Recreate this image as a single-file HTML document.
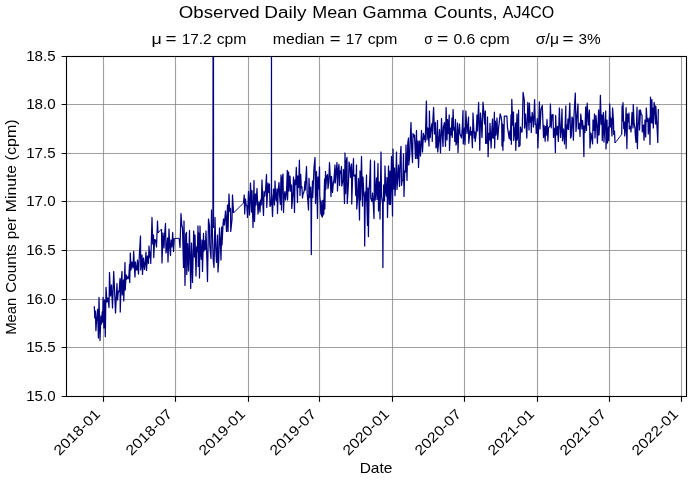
<!DOCTYPE html>
<html><head><meta charset="utf-8"><title>Observed Daily Mean Gamma Counts, AJ4CO</title>
<style>html,body{margin:0;padding:0;background:#fff}svg{display:block;will-change:transform}</style>
</head><body>
<svg width="692" height="482" viewBox="0 0 692 482" font-family="Liberation Sans, sans-serif" fill="#000">
<rect x="0" y="0" width="692" height="482" fill="#fff"/>
<path d="M103.5,56.5 V396.5 M175.5,56.5 V396.5 M248.5,56.5 V396.5 M319.5,56.5 V396.5 M392.5,56.5 V396.5 M464.5,56.5 V396.5 M537.5,56.5 V396.5 M609.5,56.5 V396.5 M681.5,56.5 V396.5" stroke="#808080" stroke-opacity="0.75" stroke-width="1.11" fill="none"/>
<path d="M66.5,104.5 H686.5 M66.5,153.5 H686.5 M66.5,201.5 H686.5 M66.5,250.5 H686.5 M66.5,299.5 H686.5 M66.5,347.5 H686.5" stroke="#808080" stroke-opacity="0.75" stroke-width="1.11" fill="none"/>
<clipPath id="c"><rect x="66.5" y="56.5" width="620.0" height="340.0"/></clipPath>
<path clip-path="url(#c)" d="M94.30,306.30 L94.80,318.00 L95.40,311.00 L95.90,330.70 L96.70,319.00 L97.60,309.40 L98.40,338.00 L99.00,297.40 L100.00,340.50 L100.90,316.00 L101.50,324.00 L102.20,312.00 L102.60,322.00 L103.10,297.40 L103.90,328.00 L104.50,300.00 L105.30,336.70 L106.00,287.40 L107.00,302.00 L108.00,298.00 L109.00,307.50 L109.50,272.50 L110.50,296.00 L111.50,285.00 L112.50,308.00 L113.70,271.50 L114.60,290.97 L115.50,313.00 L116.25,297.67 L117.00,283.50 L117.50,300.00 L118.33,291.32 L119.17,291.65 L120.00,278.50 L120.25,312.00 L121.12,282.77 L122.00,271.50 L122.25,295.00 L123.50,280.00 L123.75,301.00 L125.00,262.50 L125.25,290.00 L126.12,274.99 L127.00,279.00 L128.00,276.50 L128.75,278.78 L129.50,264.50 L129.75,282.50 L130.30,253.00 L131.00,270.00 L132.00,262.00 L133.00,268.00 L133.70,251.40 L134.35,266.49 L135.00,277.00 L135.50,262.00 L136.25,269.65 L137.00,270.00 L137.50,260.00 L138.50,274.00 L139.30,256.00 L140.50,236.00 L140.75,270.00 L142.00,255.00 L142.50,274.40 L143.50,258.00 L144.50,269.40 L145.25,262.70 L146.00,252.00 L146.50,270.40 L147.50,256.00 L148.50,263.40 L149.00,246.00 L149.75,257.51 L150.50,252.00 L150.75,263.40 L152.00,217.50 L152.75,244.01 L153.50,235.00 L153.75,257.50 L154.62,239.65 L155.50,240.00 L156.50,247.00 L157.50,221.00 L158.00,233.00 M161.50,229.00 L162.00,263.00 L163.00,233.00 L164.00,248.00 L164.50,236.00 L165.50,223.50 L166.00,253.00 L166.75,249.15 L167.50,238.00 L168.00,262.00 L169.00,229.00 L169.75,248.12 L170.50,255.50 L171.00,240.00 L171.85,246.98 L172.70,232.50 L173.50,251.50 L174.30,238.40 M179.20,238.40 L180.00,247.50 L181.00,213.50 L181.75,224.82 L182.50,228.00 L183.50,267.40 L184.00,221.00 L185.00,285.40 L185.75,234.07 L186.50,232.40 L186.75,274.40 L187.62,243.71 L188.50,271.00 L189.50,230.40 L190.70,288.40 L191.50,243.00 L192.50,282.40 L193.70,231.00 L194.50,257.00 L195.00,235.00 L196.00,276.00 L196.67,246.79 L197.33,251.72 L198.00,226.00 L198.25,266.40 L199.00,233.00 L199.50,278.00 L200.00,226.00 L200.67,252.58 L201.33,259.28 L202.00,240.00 L202.50,271.40 L203.50,233.40 L204.00,251.00 L204.67,240.91 L205.33,249.31 L206.00,231.00 L206.75,255.45 L207.50,281.40 L208.50,219.00 L209.50,226.00 L209.75,245.00 L211.00,258.40 L211.50,210.00 L212.33,229.38 L213.17,259.51 L214.00,267.40 L215.00,217.40 L215.75,248.57 L216.50,262.40 L217.50,235.00 L218.00,272.00 L218.75,260.38 L219.50,228.00 L220.25,240.29 L221.00,260.00 L221.70,227.00 L222.00,245.00 L223.00,225.00 L223.50,219.00 L224.30,225.00 L225.50,211.00 L226.50,231.40 L227.50,205.00 L228.00,231.40 L229.00,194.00 L229.75,211.20 L230.50,208.50 L230.75,231.40 L232.00,219.50 L232.50,195.00 L233.50,213.00 M243.50,203.00 L244.20,195.00 L244.70,214.00 L245.50,199.00 L246.17,205.12 L246.83,205.65 L247.50,217.50 L248.50,191.50 L249.50,215.00 L250.50,183.00 L251.50,212.00 L252.00,190.50 L253.00,227.40 L254.00,180.50 L254.50,221.40 L255.50,194.00 L256.00,205.00 L257.00,188.50 L258.00,214.00 L259.00,202.00 L260.00,212.00 L260.50,200.00 L261.25,204.98 L262.00,180.00 L262.75,201.23 L263.50,215.40 L264.00,191.50 L264.83,196.16 L265.67,188.41 L266.50,174.50 L266.75,207.40 L268.00,183.00 L268.75,192.34 L269.50,184.00 L270.00,206.40 L270.83,204.46 L271.67,194.99 L272.50,216.40 L273.50,189.00 L274.50,205.00 L275.00,181.00 L275.67,197.35 L276.33,200.57 L277.00,189.00 L277.50,213.40 L278.25,189.32 L279.00,182.50 L279.67,196.13 L280.33,204.31 L281.00,175.00 L281.50,210.00 L282.25,178.03 L283.00,174.00 L283.50,212.40 L284.25,194.66 L285.00,191.50 L285.50,200.00 L286.50,193.00 L287.30,170.30 L287.55,200.00 L288.60,172.00 L289.00,191.00 L290.00,176.00 L290.75,191.29 L291.50,185.00 L291.75,208.40 L293.00,192.00 L293.50,177.00 L294.50,212.40 L295.00,180.00 L295.65,184.58 L296.30,167.40 L297.50,202.40 L297.80,176.00 L298.60,187.28 L299.40,160.20 L300.00,195.40 L300.70,174.30 L301.30,187.85 L301.90,186.67 L302.50,198.00 L303.00,194.00 L303.67,192.88 L304.33,189.87 L305.00,181.40 L305.25,190.00 L306.50,166.50 L307.17,193.14 L307.83,200.57 L308.50,210.00 L309.00,178.40 L309.80,197.41 L310.60,187.00 L311.00,206.00 L311.30,254.60 L311.60,204.00 L312.50,181.00 L312.75,197.50 L314.00,167.50 L315.00,157.50 L315.50,203.50 L316.50,171.50 L317.50,218.40 L318.00,177.00 L318.75,188.76 L319.50,167.00 L319.75,195.00 L320.50,205.00 L320.80,214.00 L321.20,201.00 L321.60,216.00 L322.00,206.00 L322.40,217.00 L322.80,200.50 L323.20,215.00 L323.50,200.00 L323.80,214.00 L324.05,198.50 L324.60,179.00 L324.85,209.00 L325.50,171.50 L325.75,189.40 L326.62,176.37 L327.50,174.50 L328.00,188.50 L328.75,182.08 L329.50,162.50 L330.25,177.34 L331.00,196.50 L331.50,176.40 L332.50,192.40 L333.50,181.00 L333.75,183.00 L335.00,165.00 L335.25,183.00 L336.12,172.70 L337.00,162.50 L337.50,191.00 L338.25,169.01 L339.00,164.50 L339.50,185.40 L340.17,171.03 L340.83,173.46 L341.50,166.50 L341.75,186.00 L343.00,180.00 L343.50,169.50 L344.50,203.50 L345.00,153.00 L345.67,193.53 L346.33,160.75 L347.00,157.50 L347.25,203.50 L348.50,182.40 L349.00,162.00 L349.75,165.35 L350.50,177.40 L351.50,164.00 L351.75,204.00 L352.62,176.08 L353.50,158.50 L353.75,176.00 L355.00,175.00 L355.75,195.58 L356.50,165.00 L356.75,209.00 L357.62,198.23 L358.50,178.40 L359.50,220.00 L360.00,171.00 L360.50,200.00 L361.50,156.50 L362.50,206.00 L363.00,177.00 L363.65,191.44 L364.30,198.00 L364.70,246.00 L365.30,191.86 L365.90,201.10 L366.50,175.00 L366.75,200.00 L367.50,225.40 L368.00,188.00 L368.40,236.60 L369.10,191.57 L369.80,178.27 L370.50,160.00 L370.75,198.00 L372.00,201.50 L372.50,193.00 L373.25,203.51 L374.00,218.40 L374.50,161.00 L375.17,200.11 L375.83,190.84 L376.50,178.00 L377.00,199.50 L378.00,163.50 L378.50,211.00 L379.50,182.00 L380.00,219.00 L381.00,152.00 L381.50,196.00 L382.60,204.00 L382.90,267.60 L383.20,204.00 L383.70,185.00 L384.50,201.00 L385.00,166.00 L385.67,190.73 L386.33,196.08 L387.00,177.50 L387.50,217.40 L388.50,166.00 L389.25,204.36 L390.00,171.00 L390.50,204.50 L391.50,156.50 L392.50,216.00 L393.00,149.00 L393.75,188.92 L394.50,168.00 L395.00,195.70 L395.75,179.88 L396.50,152.00 L397.00,189.40 L397.75,177.89 L398.50,165.00 L399.50,186.40 L400.25,156.72 L401.00,146.40 L401.50,185.40 L402.17,180.48 L402.83,180.29 L403.50,154.00 L404.00,196.50 L404.75,171.11 L405.50,172.00 L406.00,145.00 L407.00,180.40 L407.75,143.36 L408.50,138.00 L408.75,165.00 L409.70,156.00 L410.35,137.50 L411.00,122.50 L411.75,150.30 L412.50,162.50 L413.00,133.50 L413.75,136.90 L414.50,135.00 L415.50,158.40 L416.50,130.50 L417.00,158.50 L418.00,141.00 L418.50,167.50 L419.50,141.00 L420.50,156.00 L421.50,130.50 L422.50,152.00 L423.50,133.40 L424.25,139.28 L425.00,135.50 L425.25,142.00 L426.40,101.00 L427.00,140.00 L428.00,128.00 L429.00,146.00 L429.40,111.00 L430.20,137.75 L431.00,129.00 L432.00,123.50 L432.25,141.40 L432.93,119.09 L433.60,107.50 L434.50,134.00 L435.50,122.50 L436.00,148.00 L436.75,146.27 L437.50,120.50 L437.75,152.00 L438.62,142.37 L439.50,129.50 L440.50,153.00 L441.50,118.50 L442.25,134.11 L443.00,146.40 L443.50,127.00 L444.50,122.50 L445.50,146.40 L446.10,107.50 L447.00,140.00 L447.50,119.50 L448.35,133.55 L449.20,115.00 L449.50,150.40 L450.50,128.00 L451.25,134.89 L452.00,118.00 L452.25,137.40 L453.10,109.50 L453.80,130.11 L454.50,128.00 L454.75,141.40 L455.50,119.50 L456.00,145.00 L456.75,141.61 L457.50,123.00 L458.00,152.40 L458.75,131.23 L459.50,124.00 L460.00,134.00 L461.00,136.40 L461.50,138.00 L462.25,128.62 L463.00,110.50 L463.25,144.00 L464.50,128.00 L465.00,144.40 L465.90,111.00 L467.00,133.50 L467.50,129.00 L468.50,117.00 L468.75,143.20 L469.62,134.57 L470.50,127.00 L470.75,135.00 L471.57,131.71 L472.40,147.70 L473.00,113.00 L473.67,126.86 L474.33,138.12 L475.00,132.00 L475.25,141.40 L476.12,134.39 L477.00,115.00 L477.50,131.00 L478.60,102.40 L479.80,150.30 L480.50,113.00 L481.25,122.53 L482.00,137.50 L483.00,102.20 L483.80,111.60 L484.60,123.93 L485.40,111.00 L485.65,143.40 L486.80,143.20 L487.50,117.00 L488.10,156.70 L488.80,133.38 L489.50,140.00 L490.00,123.40 L491.10,148.00 L491.80,130.33 L492.50,119.00 L492.75,138.00 L493.57,138.19 L494.40,112.20 L494.65,148.00 L495.32,121.18 L496.00,135.00 L497.00,118.00 L497.70,139.40 L498.60,128.00 L500.20,113.80 L501.20,117.50 L501.70,121.50 L502.00,146.00 L502.40,124.00 L502.90,150.30 L503.40,125.00 L503.90,141.00 L504.30,116.20 L506.90,116.20 L507.50,127.40 L509.20,138.50 L509.80,131.00 L510.40,140.00 L511.00,115.00 L511.40,144.20 L511.80,99.30 L512.65,125.01 L513.50,112.00 L513.75,140.50 L514.62,132.81 L515.50,123.00 L515.75,150.30 L517.00,114.00 L517.30,140.00 L517.95,131.73 L518.60,110.20 L518.85,146.70 L520.00,145.30 L520.50,127.00 L521.25,131.59 L522.00,132.00 L522.30,127.00 L523.10,92.40 L524.30,100.00 L524.55,128.00 L525.50,114.00 L526.80,138.00 L527.80,102.50 L529.00,130.00 L529.40,103.20 L530.20,122.13 L531.00,117.00 L531.25,132.40 L532.20,112.30 L533.20,121.00 L533.50,127.00 L534.60,99.60 L535.30,124.50 L536.00,125.00 L536.25,133.40 L537.30,118.50 L537.90,148.00 L538.65,124.50 L539.40,101.80 L540.00,129.00 L541.00,109.50 L542.30,105.40 L543.50,137.40 L544.00,125.40 L545.20,141.20 L545.50,126.40 L546.25,135.23 L547.00,119.50 L547.90,141.00 L548.50,128.00 L549.25,126.61 L550.00,126.00 L550.40,104.00 L551.20,127.87 L552.00,115.00 L553.00,114.50 L553.50,137.40 L554.13,130.73 L554.77,128.14 L555.40,152.40 L555.65,115.50 L556.27,131.89 L556.88,134.86 L557.50,126.40 L558.30,141.50 L559.40,108.00 L560.50,137.40 L561.25,130.06 L562.00,109.00 L562.50,140.80 L563.50,129.00 L564.50,144.00 L565.80,106.00 L566.10,148.60 L566.73,125.06 L567.37,128.95 L568.00,119.00 L568.50,129.50 L569.80,103.20 L570.60,138.00 L571.30,135.96 L572.00,117.00 L572.70,118.63 L573.40,140.20 L574.00,115.00 L575.30,93.00 L576.00,131.40 L577.00,115.00 L578.00,104.00 L578.25,129.00 L579.50,123.40 L580.00,136.40 L580.80,114.00 L582.00,129.00 L582.50,120.40 L583.20,128.65 L583.90,156.50 L584.15,126.00 L584.92,132.60 L585.70,106.80 L586.50,130.40 L587.20,103.20 L588.50,125.00 L589.40,110.00 L590.00,148.00 L591.00,133.00 L591.80,138.03 L592.60,143.80 L593.00,120.00 L593.75,130.33 L594.50,114.00 L595.00,138.00 L596.00,115.50 L596.70,125.11 L597.40,143.20 L598.60,110.00 L599.00,135.00 L599.70,123.95 L600.40,95.30 L601.20,124.26 L602.00,115.00 L602.25,140.60 L603.40,112.50 L604.00,142.00 L604.85,124.25 L605.70,111.00 L606.00,149.00 L607.00,120.00 L607.50,143.00 L608.50,127.00 L608.75,140.50 L609.70,104.00 L610.50,127.00 L611.00,118.00 L612.00,136.00 L612.60,108.00 L613.50,121.00 L613.75,134.50 L614.50,131.00 L615.00,143.00 M621.70,134.40 L622.10,106.00 L622.50,121.00 L623.00,102.60 L623.75,128.57 L624.50,122.00 L624.75,136.00 L625.42,129.51 L626.10,107.70 L626.90,148.60 L627.50,114.00 L628.25,121.88 L629.00,113.00 L629.25,129.00 L630.50,126.40 L631.00,132.00 L632.00,112.50 L633.00,128.00 L633.25,104.50 L634.12,123.74 L635.00,128.00 L635.25,134.40 L636.00,142.40 L637.00,107.20 L637.40,148.60 L638.00,124.12 L638.60,123.26 L639.20,110.20 L639.50,130.00 L640.50,110.00 L641.25,114.39 L642.00,115.00 L642.25,132.00 L643.50,125.00 L644.00,140.20 L645.00,120.00 L645.70,137.00 L646.30,108.00 L647.15,121.73 L648.00,118.50 L648.25,134.00 L649.50,118.00 L650.00,144.40 L650.50,97.10 L651.20,122.66 L651.90,99.60 L652.15,123.00 L652.80,108.00 L653.30,128.00 L654.10,102.40 L654.80,108.83 L655.50,124.00 L655.80,106.00 L656.47,118.90 L657.13,128.85 L657.80,142.50 L658.30,109.00" stroke="#000080" stroke-width="1.25" fill="none" stroke-linejoin="round" stroke-linecap="butt"/>
<path clip-path="url(#c)" d="M158.00,233.00 L161.50,229.00 M174.30,238.40 L179.20,238.40 M233.50,213.00 L243.50,203.00 M615.00,143.00 L621.70,134.40" stroke="#000080" stroke-width="0.95" fill="none"/>
<path clip-path="url(#c)" d="M212.45,40 L212.3,228 L214.15,228 L214.1,40 Z M270.85,40 L270.8,204 L272.15,204 L272.1,40 Z" fill="#000080"/>
<path d="M103.5,396.5 V401.70 M175.5,396.5 V401.70 M248.5,396.5 V401.70 M319.5,396.5 V401.70 M392.5,396.5 V401.70 M464.5,396.5 V401.70 M537.5,396.5 V401.70 M609.5,396.5 V401.70 M681.5,396.5 V401.70 M66.5,56.5 H61.64 M66.5,104.5 H61.64 M66.5,153.5 H61.64 M66.5,201.5 H61.64 M66.5,250.5 H61.64 M66.5,299.5 H61.64 M66.5,347.5 H61.64 M66.5,396.5 H61.64" stroke="#000" stroke-width="1.11" fill="none"/>
<rect x="66.5" y="56.5" width="620.0" height="340.0" fill="none" stroke="#000" stroke-width="1.11"/>
<text x="178.81" y="17.70" font-size="15.60" text-anchor="start" textLength="80.87" lengthAdjust="spacingAndGlyphs" >Observed</text>
<text x="264.32" y="17.70" font-size="15.60" text-anchor="start" textLength="42.12" lengthAdjust="spacingAndGlyphs" >Daily</text>
<text x="312.37" y="17.70" font-size="15.60" text-anchor="start" textLength="44.91" lengthAdjust="spacingAndGlyphs" >Mean</text>
<text x="362.64" y="17.70" font-size="15.60" text-anchor="start" textLength="64.40" lengthAdjust="spacingAndGlyphs" >Gamma</text>
<text x="433.82" y="17.70" font-size="15.60" text-anchor="start" textLength="63.77" lengthAdjust="spacingAndGlyphs" >Counts,</text>
<text x="502.75" y="17.70" font-size="15.60" text-anchor="start" textLength="51.46" lengthAdjust="spacingAndGlyphs" >AJ4CO</text>
<text x="151.61" y="44.00" font-size="14.20" text-anchor="start" textLength="10.31" lengthAdjust="spacingAndGlyphs" >μ</text>
<text x="165.48" y="44.00" font-size="14.20" text-anchor="start" textLength="11.03" lengthAdjust="spacingAndGlyphs" >=</text>
<text x="181.69" y="44.00" font-size="14.20" text-anchor="start" textLength="30.01" lengthAdjust="spacingAndGlyphs" >17.2</text>
<text x="216.77" y="44.00" font-size="14.20" text-anchor="start" textLength="29.70" lengthAdjust="spacingAndGlyphs" >cpm</text>
<text x="272.81" y="44.00" font-size="14.20" text-anchor="start" textLength="51.68" lengthAdjust="spacingAndGlyphs" >median</text>
<text x="329.73" y="44.00" font-size="14.20" text-anchor="start" textLength="10.81" lengthAdjust="spacingAndGlyphs" >=</text>
<text x="345.87" y="44.00" font-size="14.20" text-anchor="start" textLength="16.77" lengthAdjust="spacingAndGlyphs" >17</text>
<text x="367.75" y="44.00" font-size="14.20" text-anchor="start" textLength="29.72" lengthAdjust="spacingAndGlyphs" >cpm</text>
<text x="424.18" y="44.00" font-size="14.20" text-anchor="start" textLength="8.59" lengthAdjust="spacingAndGlyphs" >σ</text>
<text x="436.94" y="44.00" font-size="14.20" text-anchor="start" textLength="11.31" lengthAdjust="spacingAndGlyphs" >=</text>
<text x="453.40" y="44.00" font-size="14.20" text-anchor="start" textLength="21.84" lengthAdjust="spacingAndGlyphs" >0.6</text>
<text x="479.75" y="44.00" font-size="14.20" text-anchor="start" textLength="29.88" lengthAdjust="spacingAndGlyphs" >cpm</text>
<text x="535.85" y="44.00" font-size="14.20" text-anchor="start" textLength="23.12" lengthAdjust="spacingAndGlyphs" >σ/μ</text>
<text x="562.59" y="44.00" font-size="14.20" text-anchor="start" textLength="11.00" lengthAdjust="spacingAndGlyphs" >=</text>
<text x="578.40" y="44.00" font-size="14.20" text-anchor="start" textLength="22.24" lengthAdjust="spacingAndGlyphs" >3%</text>
<text x="359.68" y="472.70" font-size="14.20" text-anchor="start" textLength="32.74" lengthAdjust="spacingAndGlyphs" >Date</text>
<text x="55.60" y="61.40" font-size="14.20" text-anchor="end" textLength="29.40" lengthAdjust="spacingAndGlyphs" >18.5</text>
<text x="55.60" y="109.40" font-size="14.20" text-anchor="end" textLength="29.40" lengthAdjust="spacingAndGlyphs" >18.0</text>
<text x="55.60" y="158.40" font-size="14.20" text-anchor="end" textLength="29.40" lengthAdjust="spacingAndGlyphs" >17.5</text>
<text x="55.60" y="206.40" font-size="14.20" text-anchor="end" textLength="29.40" lengthAdjust="spacingAndGlyphs" >17.0</text>
<text x="55.60" y="255.40" font-size="14.20" text-anchor="end" textLength="29.40" lengthAdjust="spacingAndGlyphs" >16.5</text>
<text x="55.60" y="304.40" font-size="14.20" text-anchor="end" textLength="29.40" lengthAdjust="spacingAndGlyphs" >16.0</text>
<text x="55.60" y="352.40" font-size="14.20" text-anchor="end" textLength="29.40" lengthAdjust="spacingAndGlyphs" >15.5</text>
<text x="55.60" y="401.40" font-size="14.20" text-anchor="end" textLength="29.40" lengthAdjust="spacingAndGlyphs" >15.0</text>
<text transform="translate(101.00,414.90) rotate(-45)" font-size="14.20" text-anchor="end" textLength="58.6" lengthAdjust="spacingAndGlyphs">2018-01</text>
<text transform="translate(173.00,414.90) rotate(-45)" font-size="14.20" text-anchor="end" textLength="58.6" lengthAdjust="spacingAndGlyphs">2018-07</text>
<text transform="translate(246.00,414.90) rotate(-45)" font-size="14.20" text-anchor="end" textLength="58.6" lengthAdjust="spacingAndGlyphs">2019-01</text>
<text transform="translate(317.00,414.90) rotate(-45)" font-size="14.20" text-anchor="end" textLength="58.6" lengthAdjust="spacingAndGlyphs">2019-07</text>
<text transform="translate(390.00,414.90) rotate(-45)" font-size="14.20" text-anchor="end" textLength="58.6" lengthAdjust="spacingAndGlyphs">2020-01</text>
<text transform="translate(462.00,414.90) rotate(-45)" font-size="14.20" text-anchor="end" textLength="58.6" lengthAdjust="spacingAndGlyphs">2020-07</text>
<text transform="translate(535.00,414.90) rotate(-45)" font-size="14.20" text-anchor="end" textLength="58.6" lengthAdjust="spacingAndGlyphs">2021-01</text>
<text transform="translate(607.00,414.90) rotate(-45)" font-size="14.20" text-anchor="end" textLength="58.6" lengthAdjust="spacingAndGlyphs">2021-07</text>
<text transform="translate(679.00,414.90) rotate(-45)" font-size="14.20" text-anchor="end" textLength="58.6" lengthAdjust="spacingAndGlyphs">2022-01</text>
<text transform="translate(16.2,334.84) rotate(-90)" font-size="14.20" textLength="37.18" lengthAdjust="spacingAndGlyphs">Mean</text>
<text transform="translate(16.2,292.75) rotate(-90)" font-size="14.20" textLength="48.25" lengthAdjust="spacingAndGlyphs">Counts</text>
<text transform="translate(16.2,239.36) rotate(-90)" font-size="14.20" textLength="22.12" lengthAdjust="spacingAndGlyphs">per</text>
<text transform="translate(16.2,212.17) rotate(-90)" font-size="14.20" textLength="47.22" lengthAdjust="spacingAndGlyphs">Minute</text>
<text transform="translate(16.2,160.43) rotate(-90)" font-size="14.20" textLength="41.18" lengthAdjust="spacingAndGlyphs">(cpm)</text>
</svg>
</body></html>
